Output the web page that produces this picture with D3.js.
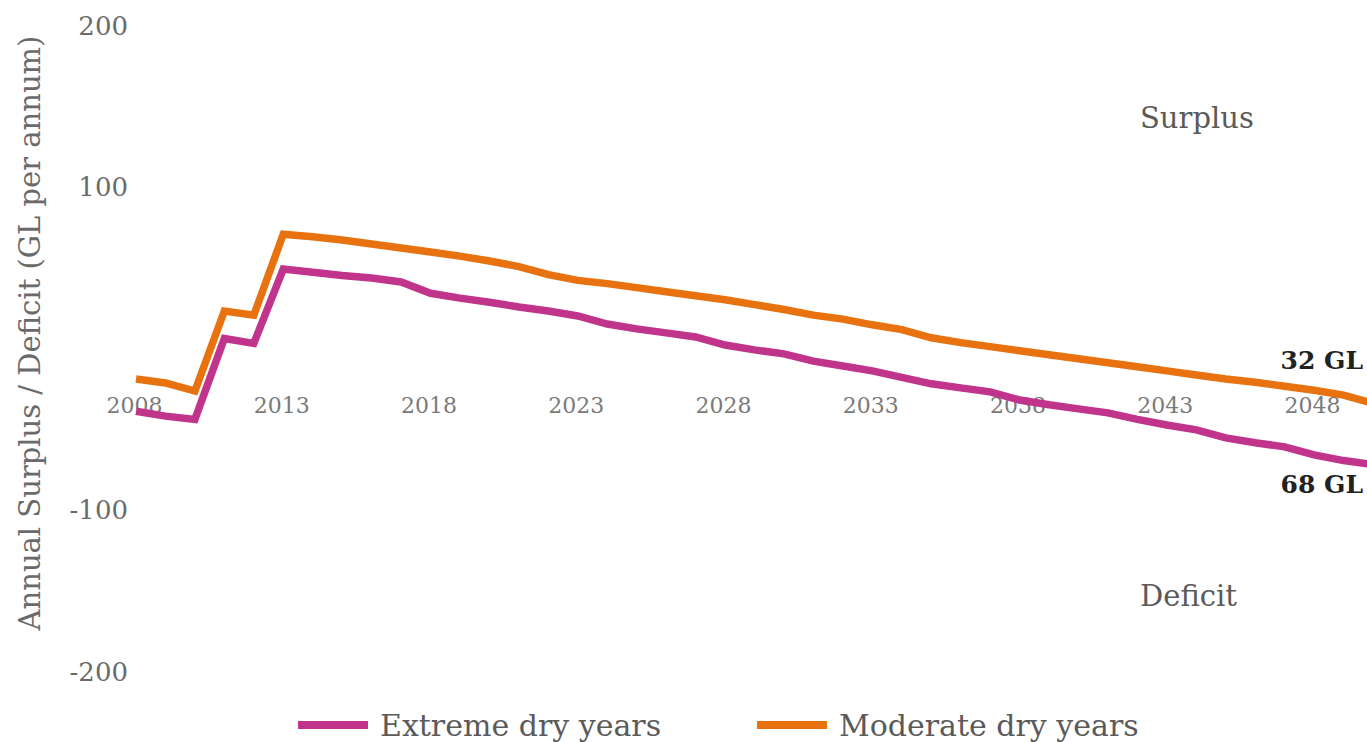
<!DOCTYPE html>
<html><head><meta charset="utf-8">
<script src="https://cdn.jsdelivr.net/npm/d3@7"></script>
<style>
html,body{margin:0;padding:0;background:#fff;overflow:hidden}
text{font-family:"DejaVu Serif",serif}
</style></head>
<body><svg id="c" width="1367" height="742"></svg>
<script>
const years = d3.range(2008, 2051);
const extreme = [-39,-42,-44,6,3,49,47,45,43.5,41,34,31,28.5,25.5,23,20,15,12,9.5,7,2,-1,-3.5,-8,-11,-14,-18,-22,-24.5,-27,-32,-35,-37.5,-40,-44,-47.5,-50.5,-55.5,-58.5,-61,-66,-69.5,-72];
const moderate = [-19,-21.5,-26.5,23,20.5,70.5,69,67,64.5,62,59.5,57,54,50.5,45.5,42,40,37.5,35,32.5,30,27,24,20.5,18,14.5,11.5,6.5,3.5,1,-1.5,-4,-6.5,-9,-11.5,-14,-16.5,-19,-21,-23.5,-26,-29,-34];
const yTicks = [200,100,-100,-200];
const xTicks = [2008,2013,2018,2023,2028,2033,2038,2043,2048];
const seriesNames = ["Extreme dry years","Moderate dry years"];
const colors = ["#c0348c","#e8720f"];
const endLabels = ["68 GL","32 GL"];

const svg = d3.select("#c");
const x = d3.scaleLinear().domain([2008,2050]).range([136,1373]);
const y = d3.scaleLinear().domain([-200,200]).range([671.5,25]);

// y axis labels
const ya = svg.append("g").attr("transform","translate(128,0)")
  .call(d3.axisLeft(y).tickValues(yTicks).tickSize(0).tickPadding(0).tickFormat(d=>String(d)));
ya.select(".domain").remove();
ya.selectAll("text").attr("font-family","DejaVu Serif").attr("font-size",26).attr("fill","#6a6a6a").attr("dy","0.35em");

// x axis labels
const xa = svg.append("g").attr("transform","translate(0,405)")
  .call(d3.axisBottom(x).tickValues(xTicks).tickSize(0).tickPadding(0).tickFormat(d=>String(d)));
xa.select(".domain").remove();
xa.selectAll("text").attr("font-family","DejaVu Serif").attr("font-size",22).attr("fill","#7a7a7a").attr("dy","0.35em").attr("dx",-2);

// y title
svg.append("text").attr("transform","translate(30,333) rotate(-90)")
  .attr("text-anchor","middle").attr("dy","0.35em").attr("font-size",29).attr("fill","#6a6a6a")
  .text("Annual Surplus / Deficit (GL per annum)");

svg.append("text").attr("x",1140).attr("y",118).attr("dy","0.35em").attr("font-size",29).attr("fill","#5a5a5a").text("Surplus");
svg.append("text").attr("x",1140).attr("y",596).attr("dy","0.35em").attr("font-size",29).attr("fill","#5a5a5a").text("Deficit");

const line = d3.line().x((d,i)=>x(years[i])).y(d=>y(d));
[extreme, moderate].forEach((s,k)=>{
  svg.append("path").datum(s).attr("d",line).attr("fill","none")
    .attr("stroke",colors[k]).attr("stroke-width",7.5).attr("stroke-linejoin","miter");
});

svg.append("text").attr("x",1363).attr("y",360).attr("dy","0.35em").attr("text-anchor","end")
  .attr("font-size",25).attr("font-weight","bold").attr("fill","#222").text(endLabels[1]);
svg.append("text").attr("x",1363).attr("y",484).attr("dy","0.35em").attr("text-anchor","end")
  .attr("font-size",25).attr("font-weight","bold").attr("fill","#222").text(endLabels[0]);

// legend
const lx = [298, 757];
seriesNames.forEach((n,k)=>{
  svg.append("line").attr("x1",lx[k]).attr("x2",lx[k]+70).attr("y1",725).attr("y2",725)
    .attr("stroke",colors[k]).attr("stroke-width",8);
  svg.append("text").attr("x",lx[k]+82).attr("y",725).attr("dy","0.35em").attr("font-size",30).attr("fill","#5a5a5a").text(n);
});
</script></body></html>
